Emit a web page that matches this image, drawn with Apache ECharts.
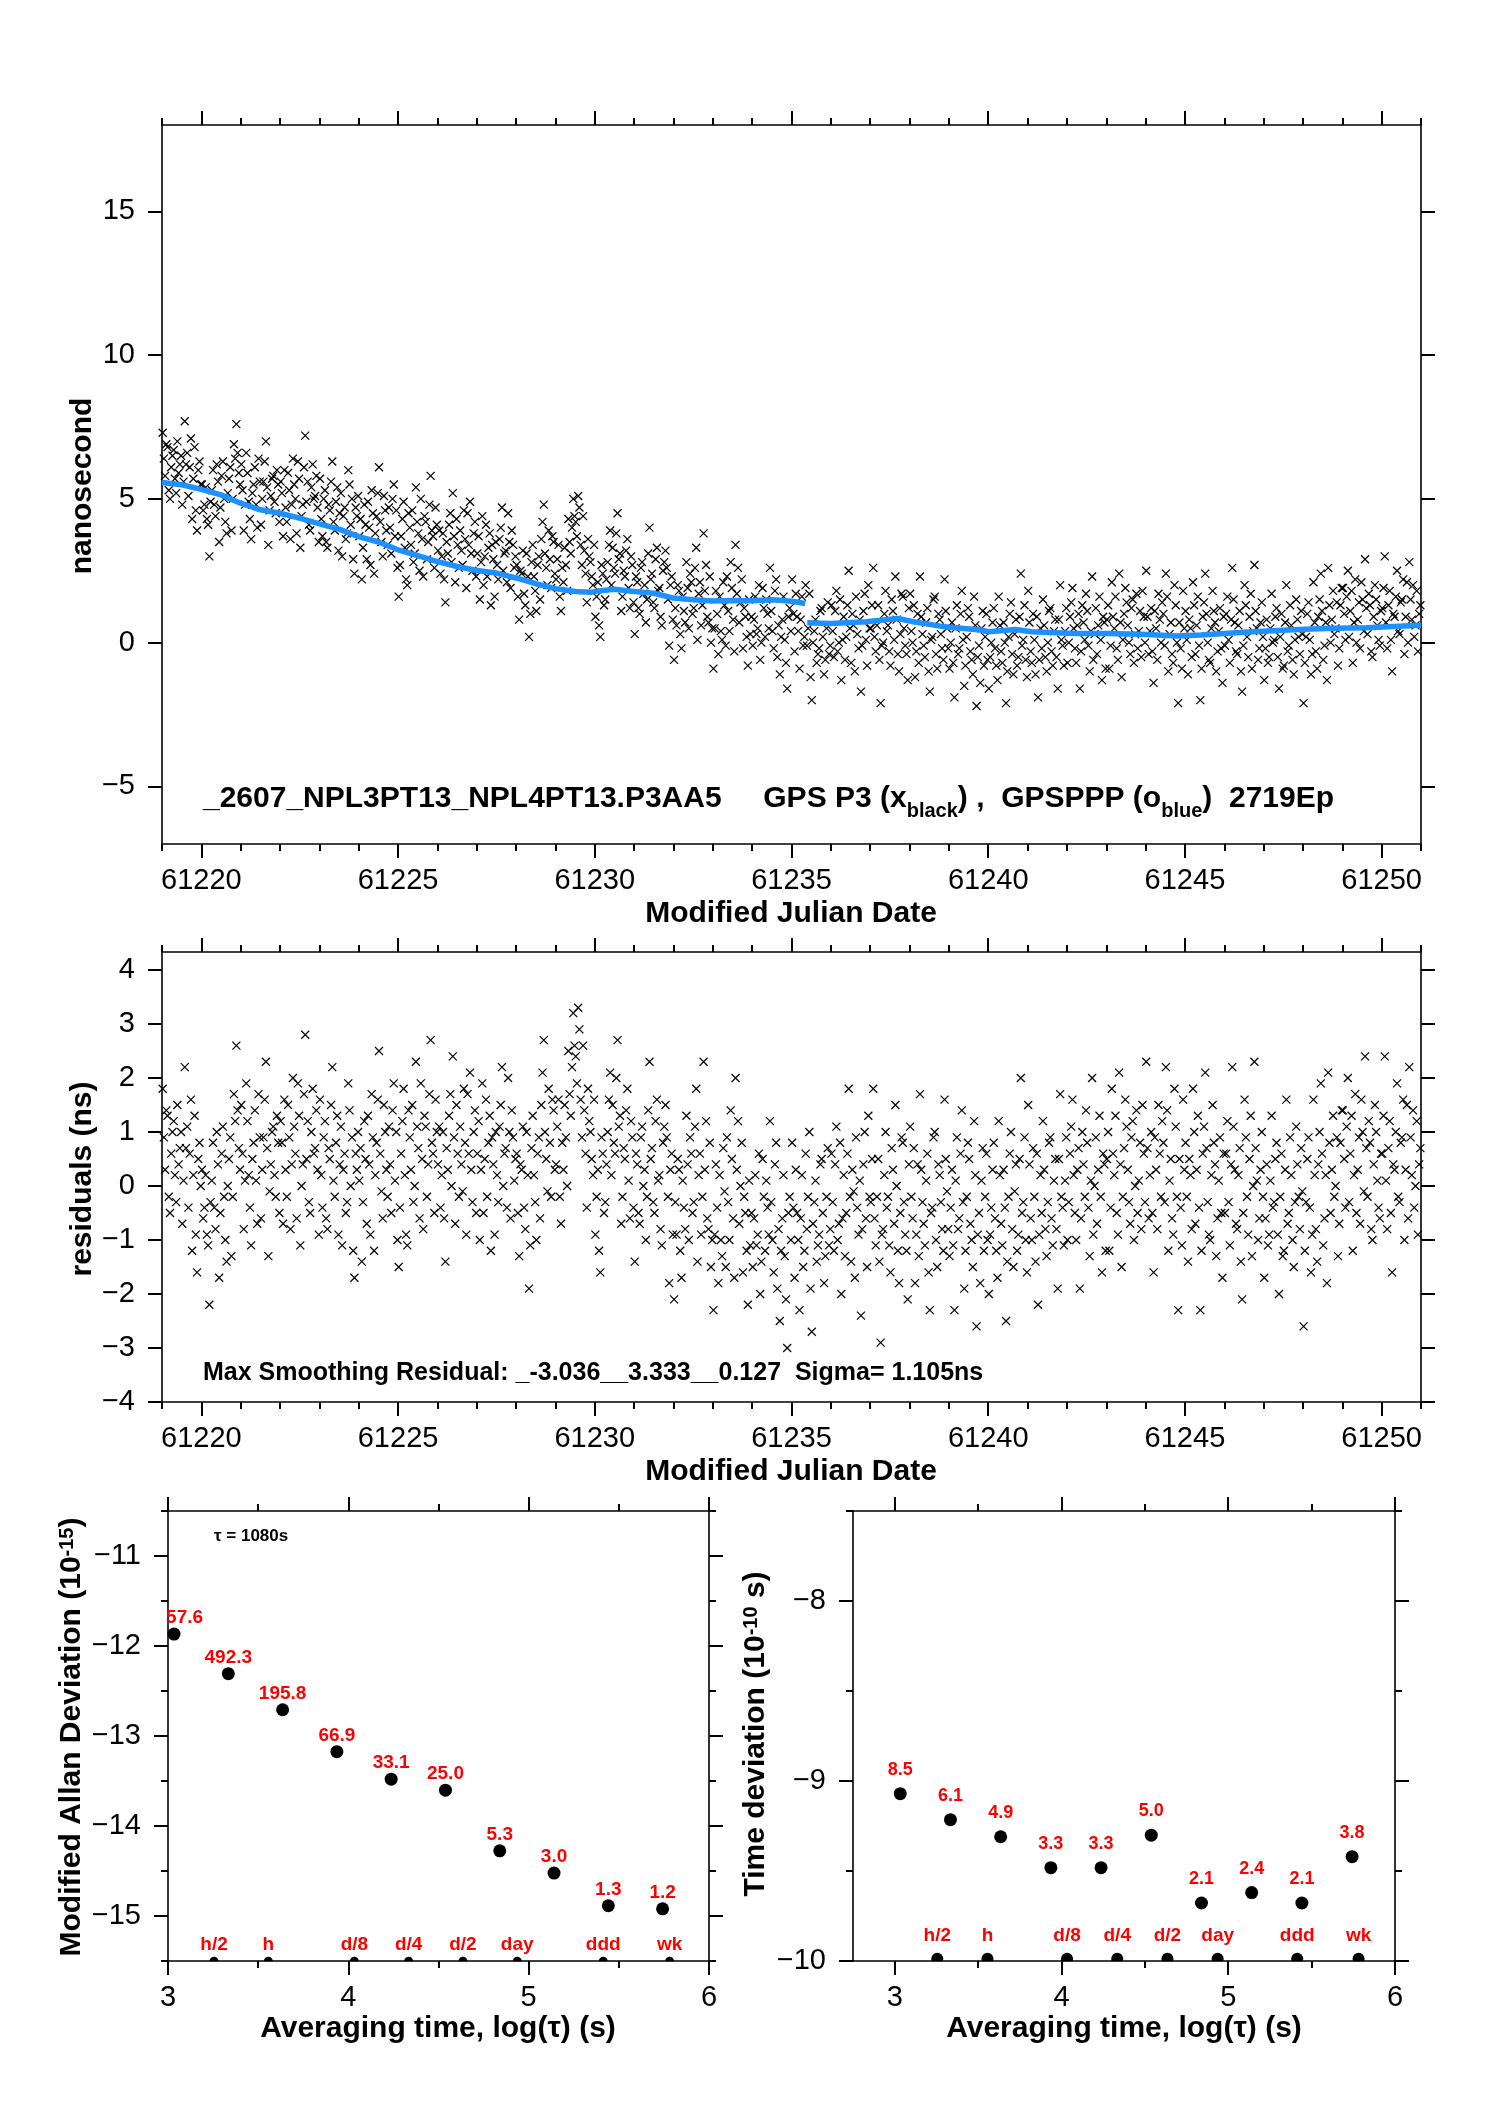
<!DOCTYPE html>
<html lang="en">
<head>
<meta charset="UTF-8">
<title>GPS P3 vs GPSPPP</title>
<script src="https://cdn.jsdelivr.net/npm/echarts@6/dist/echarts.min.js"></script>
<style>
  body, html { padding: 0; margin: 0; background: #fff; }
  #chart { width: 1488px; height: 2105px; }
</style>
</head>
<body>
<div id="chart"></div>
<script>
// ---- data ----
var mjdRange = [61219, 61251];
var mjdMajorTicks = [61220, 61225, 61230, 61235, 61240, 61245, 61250];
var mjdDayTicks = [61219, 61220, 61221, 61222, 61223, 61224, 61225, 61226, 61227, 61228, 61229,
  61230, 61231, 61232, 61233, 61234, 61235, 61236, 61237, 61238, 61239, 61240, 61241, 61242,
  61243, 61244, 61245, 61246, 61247, 61248, 61249, 61250, 61251];
var nsRange = [-7, 18];
var nsTicks = [-5, 0, 5, 10, 15];
var residRange = [-4, 4.333];
var residTicks = [-4, -3, -2, -1, 0, 1, 2, 3, 4];

// epochs sampled 32 per day from 61219.0, one row per day
var pointsMjdStart = 61219;
var pointsPerDay = 32;

// GPS P3 time differences (ns)
var gpsP3Ns = [
  7.3,6.4,5.8,6.9,6.8,5.3,5.0,6.1,6.5,6.7,5.7,5.2,7.0,5.9,6.2,6.5,4.8,5.6,7.7,6.2,6.6,5.1,6.1,7.1,4.3,5.7,6.8,4.6,3.9,6.0,6.3,5.5,
  5.5,4.6,4.8,5.4,4.3,4.1,3.0,4.9,5.3,6.0,4.8,4.4,6.2,5.6,3.5,4.7,5.8,6.3,5.0,4.2,3.8,5.2,5.7,6.1,3.9,5.0,6.9,6.4,7.6,6.6,5.9,5.5,
  6.2,5.3,3.9,4.8,6.6,5.9,4.9,4.3,3.6,5.2,5.5,6.1,4.8,4.0,6.4,5.6,4.1,5.0,5.6,6.3,7.0,5.4,3.4,4.6,5.1,5.7,5.8,4.9,4.5,6.0,5.5,4.2,
  5.6,5.2,3.7,6.0,4.7,4.2,5.9,5.3,3.6,4.8,6.4,5.5,5.0,3.8,6.3,5.7,3.3,4.4,4.8,6.1,7.2,4.9,5.6,4.1,3.9,5.4,6.2,5.0,5.1,5.8,4.7,3.5,
  5.7,4.3,3.7,5.0,5.3,3.5,3.3,4.8,4.6,5.6,6.3,4.2,3.9,4.9,5.4,3.2,4.5,5.2,3.0,4.4,4.7,3.6,3.8,6.0,5.5,4.1,5.0,2.9,2.4,4.7,4.4,5.1,
  3.7,4.3,2.2,3.3,4.8,4.1,2.9,4.9,4.0,2.7,5.3,4.5,2.4,3.8,4.4,5.2,6.1,4.2,3.5,3.0,5.1,4.6,3.9,3.4,4.7,4.0,3.1,5.0,5.5,3.7,4.6,2.6,
  1.6,2.7,3.7,4.3,4.9,3.3,2.2,2.0,4.5,4.0,3.4,4.6,2.8,3.1,5.4,4.2,3.8,2.5,5.0,3.6,2.3,4.4,4.2,2.9,3.5,4.8,5.8,3.9,3.7,2.6,4.7,4.1,
  3.2,3.9,2.4,3.0,3.8,2.2,1.4,3.5,3.1,4.1,4.5,2.8,5.2,3.7,2.1,4.3,3.4,2.6,3.9,3.2,2.7,4.6,3.6,1.9,4.5,3.4,4.9,3.1,2.5,3.8,4.2,2.3,
  3.1,3.7,1.5,2.8,4.4,2.0,3.0,4.1,2.3,3.3,3.8,1.3,3.4,2.9,1.6,3.5,2.7,2.2,3.6,4.0,4.7,2.5,3.1,3.2,2.1,4.5,3.5,1.9,3.9,3.4,2.6,3.0,
  2.7,1.6,0.8,2.5,2.4,3.2,1.7,1.3,3.1,2.3,0.2,1.0,2.8,3.4,2.3,1.8,1.1,2.7,3.0,1.5,3.6,4.2,4.8,3.1,2.6,2.0,3.9,2.9,1.9,3.7,3.5,2.4,
  2.2,2.9,3.4,1.6,1.1,2.6,2.1,3.3,2.7,1.8,4.3,3.5,3.1,4.0,5.0,4.4,4.2,3.7,5.1,4.7,3.4,2.7,4.4,3.2,2.4,1.4,3.6,3.0,2.8,2.3,2.0,3.4,
  0.9,1.6,2.1,0.6,0.2,2.7,2.4,1.3,1.5,2.2,2.8,3.4,3.9,2.0,3.3,2.6,2.4,3.8,4.5,2.9,3.1,1.1,1.6,2.5,2.3,3.2,3.6,1.9,1.2,3.0,2.7,1.4,
  0.3,2.3,2.1,1.2,1.0,2.6,2.8,1.7,2.0,0.7,1.5,3.1,4.0,2.2,2.4,1.4,1.2,2.9,3.3,1.8,1.9,0.9,0.6,2.5,2.8,3.2,2.6,1.5,-0.1,2.0,2.3,0.8,
  -0.6,1.2,0.6,2.0,1.8,0.3,-0.2,1.6,1.1,0.7,2.8,1.9,0.5,2.4,2.1,1.0,1.2,2.6,3.3,0.1,1.7,2.1,0.6,1.3,3.8,1.8,2.7,0.9,0.7,2.3,0.0,0.5,
  -0.9,0.5,1.8,1.0,-0.4,1.6,0.4,0.1,2.1,1.3,-0.1,2.3,1.1,0.4,2.8,1.9,0.8,-0.3,3.4,1.7,2.6,0.7,1.4,2.2,-0.2,1.2,0.9,0.2,-0.8,1.5,0.3,0.9,
  -0.1,0.8,1.6,0.3,0.5,2.0,-0.6,0.0,1.9,1.2,0.2,1.5,1.0,0.5,2.6,1.1,0.4,-0.2,1.8,2.2,-0.5,0.6,-1.1,0.2,0.8,1.6,0.1,-0.7,-1.6,0.9,1.2,0.4,
  2.2,1.0,-0.3,1.7,0.9,0.4,-0.9,0.8,1.6,-0.1,0.2,2.0,-0.1,0.5,1.7,-1.2,-2.0,0.0,0.4,0.8,-0.7,-0.4,-0.2,1.1,1.2,0.2,-1.1,-0.6,0.5,1.4,-0.4,-0.1,
  1.3,0.4,-0.5,1.1,1.8,-0.3,0.0,1.5,-1.3,0.1,0.9,-0.6,0.2,1.3,2.5,0.5,-0.7,1.0,0.6,-1.0,1.6,0.3,-0.2,0.8,-1.7,-0.1,1.1,1.7,0.1,-0.8,2.0,0.5,
  0.5,1.3,2.6,0.2,-0.3,0.6,1.3,-0.6,-2.1,-0.1,0.0,1.0,1.8,0.4,0.6,-0.3,-0.8,1.5,1.1,0.1,2.3,0.8,-0.4,-1.0,0.3,1.7,1.6,0.5,-0.1,-0.4,-1.3,1.2,
  1.7,0.4,0.0,1.3,-1.2,-0.3,1.0,-0.7,2.3,0.9,0.3,-0.1,-0.5,0.7,1.2,-1.0,-1.7,0.1,0.2,1.5,1.6,-0.4,-0.9,1.0,0.8,0.3,-0.2,-0.6,2.2,1.1,0.5,-0.2,
  -0.9,0.0,0.7,-0.7,-1.9,0.5,1.3,-0.4,-0.2,1.0,1.8,0.1,-1.5,-0.8,0.2,1.2,0.9,-0.3,-0.6,-1.1,1.6,0.6,-2.2,-0.5,-0.1,-1.4,0.5,1.1,-0.8,0.2,1.0,-0.6,
  -1.6,-0.5,0.0,0.7,1.2,-0.2,-0.8,-1.3,1.6,0.6,-0.3,-0.7,0.7,0.0,-2.1,-1.0,0.2,1.0,1.4,-0.4,-1.1,0.3,0.8,-0.8,-0.5,0.9,2.4,-0.1,0.1,1.3,-0.6,-1.2,
  1.8,0.7,-0.3,-0.7,1.0,0.1,-1.1,0.9,-1.9,-0.6,0.5,-0.2,1.5,0.6,-0.5,-1.0,0.0,1.1,1.2,-0.3,-0.8,0.4,0.8,-0.5,-1.6,0.8,2.0,0.1,-0.1,-0.8,0.4,1.2,
  -0.7,0.0,0.9,1.4,1.9,0.5,-0.2,-0.7,0.6,1.0,-1.6,-0.3,1.3,0.7,0.1,1.7,1.1,-0.1,-1.0,0.4,2.3,-0.6,0.3,1.2,-0.4,0.6,1.6,0.1,-1.3,0.9,0.7,-0.9,
  0.8,1.3,-0.9,-0.1,2.1,0.9,0.5,1.6,-0.2,-0.6,2.4,0.7,-1.2,0.1,1.0,1.9,1.4,0.6,0.0,-0.4,1.2,1.5,-0.7,0.3,1.7,-0.2,0.4,1.1,-0.5,1.8,0.9,0.0,
  2.5,0.9,-0.4,0.4,1.2,-0.3,-1.4,1.1,0.5,-0.6,1.7,0.8,0.0,1.4,1.0,-0.1,2.4,1.6,-1.0,0.3,0.7,-0.4,-0.7,2.0,1.3,0.0,-2.1,0.7,-0.2,-0.9,1.8,0.5,
  1.1,0.1,-1.1,0.8,0.5,-0.5,2.1,1.3,-0.4,0.6,1.6,-0.1,-2.0,-0.9,0.9,1.4,2.4,1.0,0.0,-0.6,-0.7,0.5,1.8,1.1,0.7,-1.0,-0.3,0.4,1.2,-0.2,-1.4,0.9,
  -0.1,1.0,1.6,0.1,-0.7,0.8,2.6,1.5,0.7,-0.3,-0.4,0.6,1.1,-1.0,-1.7,-0.1,2.0,1.3,0.2,-0.5,0.9,1.7,-0.9,0.4,2.7,1.1,0.5,-0.6,-0.2,0.7,1.4,0.2,
  -1.3,-0.2,0.8,-0.7,-0.5,0.5,1.7,0.0,0.1,0.9,1.2,-0.5,-1.6,0.2,1.0,-0.9,-0.8,0.7,2.0,-0.3,-0.1,1.3,0.6,-0.6,-1.1,0.1,1.5,0.8,0.2,-0.4,1.1,0.3,
  -2.1,-0.7,0.2,1.0,1.4,0.1,-1.1,-0.4,2.1,0.7,-0.3,-0.9,0.9,1.5,2.4,1.1,-0.6,-0.1,0.7,-1.3,2.6,1.3,0.0,0.8,1.8,0.3,0.5,1.4,-0.8,-0.2,1.3,1.9,
  1.9,1.0,0.1,1.6,2.5,0.2,1.1,1.8,-0.7,0.7,2.2,0.0,0.8,1.4,-0.2,2.1,1.5,0.4,2.9,1.2,0.3,1.7,1.3,-0.3,-0.5,0.9,2.0,1.5,0.6,0.1,-0.1,1.1,
  1.2,1.9,3.0,0.7,-0.2,1.3,1.8,0.1,-1.0,1.0,0.9,1.6,2.5,0.4,0.3,1.4,1.5,2.2,-0.4,0.9,2.1,0.0,2.8,1.5,0.8,2.0,0.2,0.6,1.8,-0.3,1.0,1.3
];

// smoothing residuals (ns), same epochs
var residualNs = [
  1.8,0.9,0.3,1.4,1.3,-0.2,-0.5,0.6,1.0,1.2,0.2,-0.3,1.5,0.4,0.7,1.0,-0.7,0.1,2.2,0.7,1.1,-0.4,0.6,1.6,-1.2,0.2,1.3,-0.9,-1.6,0.5,0.8,0.0,
  0.3,-0.6,-0.4,0.2,-0.9,-1.1,-2.2,-0.3,0.1,0.8,-0.4,-0.8,1.0,0.4,-1.7,-0.5,0.6,1.1,-0.2,-1.0,-1.4,0.0,0.5,0.9,-1.3,-0.2,1.7,1.2,2.6,1.4,0.7,0.3,
  1.5,0.6,-0.8,0.1,1.9,1.2,0.2,-0.4,-1.1,0.5,0.8,1.4,0.1,-0.7,1.7,0.9,-0.6,0.3,0.9,1.6,2.3,0.7,-1.3,-0.1,0.4,1.0,1.1,0.2,-0.2,1.3,0.8,-0.5,
  1.2,0.8,-0.7,1.6,0.3,-0.2,1.5,0.9,-0.8,0.4,2.0,1.1,0.6,-0.6,1.9,1.3,-1.1,0.0,0.4,1.7,2.8,0.5,1.2,-0.3,-0.5,1.0,1.8,0.6,0.7,1.4,0.3,-0.9,
  1.6,0.2,-0.4,0.9,1.2,-0.6,-0.8,0.7,0.5,1.5,2.2,0.1,-0.2,0.8,1.3,-0.9,0.4,1.1,-1.1,0.3,0.6,-0.5,-0.3,1.9,1.4,0.0,0.9,-1.2,-1.7,0.6,0.3,1.0,
  0.1,0.7,-1.4,-0.3,1.2,0.5,-0.7,1.3,0.4,-0.9,1.7,0.9,-1.2,0.2,0.8,1.6,2.5,0.6,-0.1,-0.6,1.5,1.0,0.3,-0.2,1.1,0.4,-0.5,1.4,1.9,0.1,1.0,-1.0,
  -1.5,-0.4,0.6,1.2,1.8,0.2,-0.9,-1.1,1.4,0.9,0.3,1.5,-0.3,0.0,2.3,1.1,0.7,-0.6,1.9,0.5,-0.8,1.3,1.1,-0.2,0.4,1.7,2.7,0.8,0.6,-0.5,1.6,1.0,
  0.4,1.1,-0.4,0.2,1.0,-0.6,-1.4,0.7,0.3,1.3,1.7,0.0,2.4,0.9,-0.7,1.5,0.6,-0.2,1.1,0.4,-0.1,1.8,0.8,-0.9,1.7,0.6,2.1,0.3,-0.3,1.0,1.4,-0.5,
  0.6,1.2,-1.0,0.3,1.9,-0.5,0.5,1.6,-0.2,0.8,1.3,-1.2,0.9,0.4,-0.9,1.0,0.2,-0.3,1.1,1.5,2.2,0.0,0.6,0.7,-0.4,2.0,1.0,-0.6,1.4,0.9,0.1,0.5,
  0.6,-0.5,-1.3,0.4,0.3,1.1,-0.4,-0.8,1.0,0.2,-1.9,-1.1,0.7,1.3,0.2,-0.3,-1.0,0.6,0.9,-0.6,1.5,2.1,2.7,1.0,0.5,-0.1,1.8,0.8,-0.2,1.6,1.4,0.3,
  0.4,1.1,1.6,-0.2,-0.7,0.8,0.3,1.5,0.9,0.0,2.5,1.7,1.3,2.2,3.2,2.6,2.4,1.9,3.3,2.9,1.6,0.9,2.6,1.4,0.6,-0.4,1.8,1.2,1.0,0.5,0.2,1.6,
  -0.9,-0.2,0.3,-1.2,-1.6,0.9,0.6,-0.5,-0.3,0.4,1.0,1.6,2.1,0.2,1.5,0.8,0.6,2.0,2.7,1.1,1.3,-0.7,-0.2,0.7,0.5,1.4,1.8,0.1,-0.6,1.2,0.9,-0.4,
  -1.4,0.6,0.4,-0.5,-0.7,0.9,1.1,0.0,0.3,-1.0,-0.2,1.4,2.3,0.5,0.7,-0.3,-0.5,1.2,1.6,0.1,0.2,-0.8,-1.1,0.8,1.1,1.5,0.9,-0.2,-1.8,0.3,0.6,-0.9,
  -2.1,-0.3,-0.9,0.5,0.3,-1.2,-1.7,0.1,-0.4,-0.8,1.3,0.4,-1.0,0.9,0.6,-0.5,-0.3,1.1,1.8,-1.4,0.2,0.6,-0.9,-0.2,2.3,0.3,1.2,-0.6,-0.8,0.8,-1.5,-1.0,
  -2.3,-0.9,0.4,-0.4,-1.8,0.2,-1.0,-1.3,0.7,-0.1,-1.5,0.9,-0.3,-1.0,1.4,0.5,-0.6,-1.7,2.0,0.3,1.2,-0.7,0.0,0.8,-1.6,-0.2,-0.5,-1.2,-2.2,0.1,-1.1,-0.5,
  -1.5,-0.6,0.2,-1.1,-0.9,0.6,-2.0,-1.4,0.5,-0.2,-1.2,0.1,-0.4,-0.9,1.2,-0.3,-1.0,-1.6,0.4,0.8,-1.9,-0.8,-2.5,-1.2,-0.6,0.2,-1.3,-2.1,-3.0,-0.5,-0.2,-1.0,
  0.8,-0.4,-1.7,0.3,-0.5,-1.0,-2.3,-0.6,0.2,-1.5,-1.2,0.6,-0.8,-0.2,1.0,-1.9,-2.7,-0.7,-0.3,0.1,-1.4,-1.1,-0.9,0.4,0.5,-0.5,-1.8,-1.3,-0.2,0.7,-1.1,-0.8,
  0.6,-0.3,-1.2,0.4,1.1,-1.0,-0.7,0.8,-2.0,-0.6,0.2,-1.3,-0.5,0.6,1.8,-0.2,-1.4,0.3,-0.1,-1.7,0.9,-0.4,-0.9,0.1,-2.4,-0.8,0.4,1.0,-0.6,-1.5,1.3,-0.2,
  -0.3,0.5,1.8,-0.6,-1.1,-0.2,0.5,-1.4,-2.9,-0.9,-0.8,0.2,1.0,-0.4,-0.2,-1.1,-1.6,0.7,0.3,-0.7,1.5,0.0,-1.2,-1.8,-0.5,0.9,0.8,-0.3,-0.9,-1.2,-2.1,0.4,
  1.1,-0.2,-0.6,0.7,-1.8,-0.9,0.4,-1.3,1.7,0.3,-0.3,-0.7,-1.1,0.1,0.6,-1.6,-2.3,-0.5,-0.4,0.9,1.0,-1.0,-1.5,0.4,0.2,-0.3,-0.8,-1.2,1.6,0.5,-0.1,-0.8,
  -1.3,-0.4,0.3,-1.1,-2.3,0.1,0.9,-0.8,-0.6,0.6,1.4,-0.3,-1.9,-1.2,-0.2,0.8,0.5,-0.7,-1.0,-1.5,1.2,0.2,-2.6,-0.9,-0.5,-1.8,0.1,0.7,-1.2,-0.2,0.6,-1.0,
  -2.0,-0.9,-0.4,0.3,0.8,-0.6,-1.2,-1.7,1.2,0.2,-0.7,-1.1,0.3,-0.4,-2.5,-1.4,-0.2,0.6,1.0,-0.8,-1.5,-0.1,0.4,-1.2,-0.9,0.5,2.0,-0.5,-0.3,0.9,-1.0,-1.6,
  1.5,0.4,-0.6,-1.0,0.7,-0.2,-1.4,0.6,-2.2,-0.9,0.2,-0.5,1.2,0.3,-0.8,-1.3,-0.3,0.8,0.9,-0.6,-1.1,0.1,0.5,-0.8,-1.9,0.5,1.7,-0.2,-0.4,-1.1,0.1,0.9,
  -1.0,-0.3,0.6,1.1,1.6,0.2,-0.5,-1.0,0.3,0.7,-1.9,-0.6,1.0,0.4,-0.2,1.4,0.8,-0.4,-1.3,0.1,2.0,-0.9,0.0,0.9,-0.7,0.3,1.3,-0.2,-1.6,0.6,0.4,-1.2,
  0.5,1.0,-1.2,-0.4,1.8,0.6,0.2,1.3,-0.5,-0.9,2.1,0.4,-1.5,-0.2,0.7,1.6,1.1,0.3,-0.3,-0.7,0.9,1.2,-1.0,0.0,1.4,-0.5,0.1,0.8,-0.8,1.5,0.6,-0.3,
  2.3,0.7,-0.6,0.2,1.0,-0.5,-1.6,0.9,0.3,-0.8,1.5,0.6,-0.2,1.2,0.8,-0.3,2.2,1.4,-1.2,0.1,0.5,-0.6,-0.9,1.8,1.1,-0.2,-2.3,0.5,-0.4,-1.1,1.6,0.3,
  0.8,-0.2,-1.4,0.5,0.2,-0.8,1.8,1.0,-0.7,0.3,1.3,-0.4,-2.3,-1.2,0.6,1.1,2.1,0.7,-0.3,-0.9,-1.0,0.2,1.5,0.8,0.4,-1.3,-0.6,0.1,0.9,-0.5,-1.7,0.6,
  -0.5,0.6,1.2,-0.3,-1.1,0.4,2.2,1.1,0.3,-0.7,-0.8,0.2,0.7,-1.4,-2.1,-0.5,1.6,0.9,-0.2,-0.9,0.5,1.3,-1.3,0.0,2.3,0.7,0.1,-1.0,-0.6,0.3,1.0,-0.2,
  -1.7,-0.6,0.4,-1.1,-0.9,0.1,1.3,-0.4,-0.3,0.5,0.8,-0.9,-2.0,-0.2,0.6,-1.3,-1.2,0.3,1.6,-0.7,-0.5,0.9,0.2,-1.0,-1.5,-0.3,1.1,0.4,-0.2,-0.8,0.7,-0.1,
  -2.6,-1.2,-0.3,0.5,0.9,-0.4,-1.6,-0.9,1.6,0.2,-0.8,-1.4,0.4,1.0,1.9,0.6,-1.1,-0.6,0.2,-1.8,2.1,0.8,-0.5,0.3,1.3,-0.2,0.0,0.9,-1.3,-0.7,0.8,1.4,
  1.4,0.5,-0.4,1.1,2.0,-0.3,0.6,1.3,-1.2,0.2,1.7,-0.5,0.3,0.9,-0.7,1.6,1.0,-0.1,2.4,0.7,-0.2,1.2,0.8,-0.8,-1.0,0.4,1.5,1.0,0.1,-0.4,-0.6,0.6,
  0.6,1.3,2.4,0.1,-0.8,0.7,1.2,-0.5,-1.6,0.4,0.3,1.0,1.9,-0.2,-0.3,0.8,0.9,1.6,-1.0,0.3,1.5,-0.6,2.2,0.9,0.2,1.4,-0.4,0.0,1.2,-0.9,0.4,0.7
];

// GPSPPP smoothed curve (blue); null = gap
var blueMjd = [61219.0,61219.5,61220.0,61220.5,61221.0,61221.5,61222.0,61222.5,61223.0,61223.5,
  61224.0,61224.5,61225.0,61225.5,61226.0,61226.5,61227.0,61227.5,61228.0,61228.5,
  61229.0,61229.5,61229.9,61230.1,61230.5,61231.0,61231.5,61232.0,61232.5,61233.0,
  61233.5,61234.0,61234.5,61235.0,61235.35,61235.37,61235.4,61236.0,61236.9,61237.7,
  61238.1,61238.9,61239.8,61240.0,61240.7,61241.1,61242.2,61243.0,61243.9,61244.8,
  61245.4,61246.0,61246.7,61247.9,61248.75,61249.6,61251.0];
var blueNs = [5.57,5.49,5.33,5.14,4.85,4.62,4.50,4.33,4.13,3.95,
  3.69,3.50,3.23,3.03,2.82,2.65,2.51,2.42,2.25,2.05,
  1.88,1.78,1.75,1.80,1.86,1.78,1.72,1.55,1.49,1.45,
  1.47,1.46,1.49,1.44,1.36,null,0.69,0.67,0.73,0.84,
  0.73,0.55,0.44,0.38,0.46,0.38,0.32,0.32,0.29,0.23,
  0.27,0.32,0.38,0.46,0.50,0.52,0.61];

// stability
var logTauTicks = [3, 4, 5, 6];
var logTauHalfTicks = [3.5, 4.5, 5.5];
var mdevTauRange = [3, 6];
var tdevTauRange = [2.75, 6];
var mdevRange = [-15.5, -10.5];
var mdevTicks = [-15, -14, -13, -12, -11];
var mdevHalfTicks = [-15.5, -14.5, -13.5, -12.5, -11.5, -10.5];
var tdevRange = [-10, -7.5];
var tdevTicks = [-10, -9, -8];
var tdevHalfTicks = [-9.5, -8.5, -7.5];
var tauSeconds = [1080, 2160, 4320, 8640, 17280, 34560, 69120, 138240, 276480, 552960];
var mdev15 = [1357.6, 492.3, 195.8, 66.9, 33.1, 25.0, 5.3, 3.0, 1.3, 1.2];   // x 1e-15
var tdev10 = [8.5, 6.1, 4.9, 3.3, 3.3, 5.0, 2.1, 2.4, 2.1, 3.8];              // x 1e-10 s
var markNames = ['h/2', 'h', 'd/8', 'd/4', 'd/2', 'day', 'ddd', 'wk'];
var markSeconds = [1800, 3600, 10800, 21600, 43200, 86400, 259200, 604800];

// ---- chart ----
var FONT = '"Liberation Sans", Arial, Helvetica, sans-serif';
var LONG = 14, SHORT = 7;
var CROSS = 'path://M0,0L10,10M10,0L0,10';
var HALF = 'path://M0,10A10,10 0 0 1 20,10Z';
var CAP = 'path://M0.46,8.3A6,6 0 1 1 11.54,8.3Z';

function minus(v) { return String(v).replace('-', '\u2212'); }

function ax(grid, pos, range, ticks, len, opts) {
  opts = opts || {};
  return {
    type: 'value', gridIndex: grid, position: pos, min: range[0], max: range[1],
    axisLine: { show: !!opts.line, onZero: false, lineStyle: { color: '#000', width: 1.6 } },
    axisTick: { show: true, inside: false, length: len, customValues: ticks, lineStyle: { color: '#000', width: 2 } },
    axisLabel: opts.label ? {
      show: true, customValues: ticks, formatter: minus, margin: opts.margin,
      color: '#000', fontSize: 29, fontFamily: FONT
    } : { show: false },
    splitLine: { show: false },
    minorTick: { show: false }
  };
}

var xAxes = [
  ax(0, 'bottom', mjdRange, mjdMajorTicks, LONG, { line: true, label: true, margin: 22 }),
  ax(0, 'bottom', mjdRange, mjdDayTicks, SHORT),
  ax(0, 'top', mjdRange, mjdMajorTicks, LONG, { line: true }),
  ax(0, 'top', mjdRange, mjdDayTicks, SHORT),
  ax(1, 'bottom', mjdRange, mjdMajorTicks, LONG, { line: true, label: true, margin: 22 }),
  ax(1, 'bottom', mjdRange, mjdDayTicks, SHORT),
  ax(1, 'top', mjdRange, mjdMajorTicks, LONG, { line: true }),
  ax(1, 'top', mjdRange, mjdDayTicks, SHORT),
  ax(2, 'bottom', mdevTauRange, logTauTicks, LONG, { line: true, label: true, margin: 22 }),
  ax(2, 'bottom', mdevTauRange, logTauHalfTicks, SHORT),
  ax(2, 'top', mdevTauRange, logTauTicks, LONG, { line: true }),
  ax(2, 'top', mdevTauRange, logTauHalfTicks, SHORT),
  ax(3, 'bottom', tdevTauRange, logTauTicks, LONG, { line: true, label: true, margin: 22 }),
  ax(3, 'bottom', tdevTauRange, logTauHalfTicks, SHORT),
  ax(3, 'top', tdevTauRange, logTauTicks, LONG, { line: true }),
  ax(3, 'top', tdevTauRange, logTauHalfTicks, SHORT)
];
var yAxes = [
  ax(0, 'left', nsRange, nsTicks, LONG, { line: true, label: true, margin: 27 }),
  ax(0, 'right', nsRange, nsTicks, LONG, { line: true }),
  ax(1, 'left', residRange, residTicks, LONG, { line: true, label: true, margin: 27 }),
  ax(1, 'right', residRange, residTicks, LONG, { line: true }),
  ax(2, 'left', mdevRange, mdevTicks, LONG, { line: true, label: true, margin: 27 }),
  ax(2, 'left', mdevRange, mdevHalfTicks, SHORT),
  ax(2, 'right', mdevRange, mdevTicks, LONG, { line: true }),
  ax(2, 'right', mdevRange, mdevHalfTicks, SHORT),
  ax(3, 'left', tdevRange, tdevTicks, LONG, { line: true, label: true, margin: 27 }),
  ax(3, 'left', tdevRange, tdevHalfTicks, SHORT),
  ax(3, 'right', tdevRange, tdevTicks, LONG, { line: true }),
  ax(3, 'right', tdevRange, tdevHalfTicks, SHORT)
];

var grids = [
  { left: 162, top: 125, width: 1259, height: 719 },
  { left: 162, top: 952, width: 1259, height: 450 },
  { left: 168, top: 1511, width: 541, height: 450 },
  { left: 853, top: 1511, width: 542, height: 450 }
];
grids.forEach(function (g) { g.show = false; g.containLabel = false; g.outerBoundsMode = 'none'; });

function epochPoints(values) {
  return values.map(function (v, i) { return [pointsMjdStart + (i + 0.5) / pointsPerDay, v]; });
}
var bluePoints = blueMjd.map(function (t, i) { return [t, blueNs[i] === null ? '-' : blueNs[i]]; });
var mdevPoints = tauSeconds.map(function (t, i) { return [Math.log10(t), Math.log10(mdev15[i] * 1e-15)]; });
var tdevPoints = tauSeconds.map(function (t, i) { return [Math.log10(t), Math.log10(tdev10[i] * 1e-10)]; });
var mdevMarks = markSeconds.map(function (s) { return [Math.log10(s), mdevRange[0]]; });
var tdevMarks = markSeconds.map(function (s) { return [Math.log10(s), tdevRange[0]]; });

function redLabel(size, dy, fmt) {
  return { show: true, position: 'inside', offset: [0, dy], formatter: fmt, color: '#ff0000',
    fontWeight: 'bold', fontSize: size, fontFamily: FONT, opacity: 1 };
}
var crossStyle = { color: 'rgba(0,0,0,0)', borderColor: '#000', borderWidth: 1.2, opacity: 1 };
var dotStyle = { color: '#000', opacity: 1 };

var series = [
  { type: 'scatter', xAxisIndex: 0, yAxisIndex: 0, data: epochPoints(gpsP3Ns), symbol: CROSS,
    symbolSize: 8, itemStyle: crossStyle, silent: true, z: 2 },
  { type: 'line', xAxisIndex: 0, yAxisIndex: 0, data: bluePoints, showSymbol: false, symbol: 'none',
    connectNulls: false, lineStyle: { color: '#1e90ff', width: 5.5 }, silent: true, z: 3 },
  { type: 'scatter', xAxisIndex: 4, yAxisIndex: 2, data: epochPoints(residualNs), symbol: CROSS,
    symbolSize: 8, itemStyle: crossStyle, silent: true, z: 2 },
  { type: 'scatter', xAxisIndex: 8, yAxisIndex: 4, data: mdevPoints, symbol: 'circle', symbolSize: 13,
    itemStyle: dotStyle, silent: true,
    label: redLabel(19, -16, function (p) { return mdev15[p.dataIndex].toFixed(1); }) },
  { type: 'scatter', xAxisIndex: 8, yAxisIndex: 4, data: mdevMarks, symbol: HALF, symbolSize: [9, 4.5],
    symbolOffset: [0, -2], itemStyle: dotStyle, silent: true,
    label: redLabel(19, -14, function (p) { return markNames[p.dataIndex]; }) },
  { type: 'scatter', xAxisIndex: 12, yAxisIndex: 8, data: tdevPoints, symbol: 'circle', symbolSize: 13,
    itemStyle: dotStyle, silent: true,
    label: redLabel(18, -24, function (p) { return tdev10[p.dataIndex].toFixed(1); }) },
  { type: 'scatter', xAxisIndex: 12, yAxisIndex: 8, data: tdevMarks, symbol: CAP, symbolSize: [12, 8.3],
    symbolOffset: [0, -4], itemStyle: dotStyle, silent: true,
    label: redLabel(19, -21, function (p) { return markNames[p.dataIndex]; }) }
];

function rs(size, extra) {
  var s = { fontSize: size, fontWeight: 'bold', fontFamily: FONT, fill: '#000' };
  for (var k in extra) s[k] = extra[k];
  return s;
}
function title(x, y, text, rot) {
  return { type: 'text', x: x, y: y, rotation: rot || 0, z: 50,
    style: rs(30, { text: text, align: 'center', verticalAlign: 'middle' }) };
}
var supRich = {
  m: rs(30, { lineHeight: 34, verticalAlign: 'top' }),
  p: rs(20, { lineHeight: 20, verticalAlign: 'top' })
};
var subRich = {
  m: rs(30, { lineHeight: 34, verticalAlign: 'top' }),
  s: rs(20, { lineHeight: 20, padding: [17, 0, 0, 0], verticalAlign: 'top' })
};

var graphic = [
  title(83, 486, 'nanosecond', Math.PI / 2),
  title(791, 914, 'Modified Julian Date'),
  title(83, 1179, 'residuals (ns)', Math.PI / 2),
  title(791, 1472, 'Modified Julian Date'),
  title(438, 2029, 'Averaging time, log(\u03c4) (s)'),
  title(1124, 2029, 'Averaging time, log(\u03c4) (s)'),
  { type: 'text', x: 74, y: 1737, rotation: Math.PI / 2, z: 50,
    style: { text: '{m|Modified Allan Deviation (10}{p|-15}{m|)}', rich: supRich,
      align: 'center', verticalAlign: 'middle', fill: '#000' } },
  { type: 'text', x: 758, y: 1734, rotation: Math.PI / 2, z: 50,
    style: { text: '{m|Time deviation (10}{p|-10}{m| s)}', rich: supRich,
      align: 'center', verticalAlign: 'middle', fill: '#000' } },
  { type: 'text', x: 203, y: 784, z: 50,
    style: { text: '{m|_2607_NPL3PT13_NPL4PT13.P3AA5     GPS P3 (x}{s|black}{m|) ,  GPSPPP (o}{s|blue}{m|)  2719Ep}',
      rich: subRich, align: 'left', verticalAlign: 'top', fill: '#000' } },
  { type: 'text', x: 203, y: 1373, z: 50,
    style: rs(25, { text: 'Max Smoothing Residual: _-3.036__3.333__0.127  Sigma= 1.105ns',
      align: 'left', verticalAlign: 'middle' }) },
  { type: 'text', x: 214, y: 1536, z: 50,
    style: rs(17, { text: '\u03c4 = 1080s', align: 'left', verticalAlign: 'middle' }) },
  // first MDEV label runs off the plot's left edge in the original
  { type: 'rect', z: 100, shape: { x: 126, y: 1605, width: 40, height: 26 }, style: { fill: '#fff' } }
];

var chart = echarts.init(document.getElementById('chart'), null, { renderer: 'canvas', width: 1488, height: 2105 });
chart.setOption({
  animation: false,
  backgroundColor: '#fff',
  textStyle: { fontFamily: FONT },
  grid: grids,
  xAxis: xAxes,
  yAxis: yAxes,
  series: series,
  graphic: graphic
});
</script>
</body>
</html>
